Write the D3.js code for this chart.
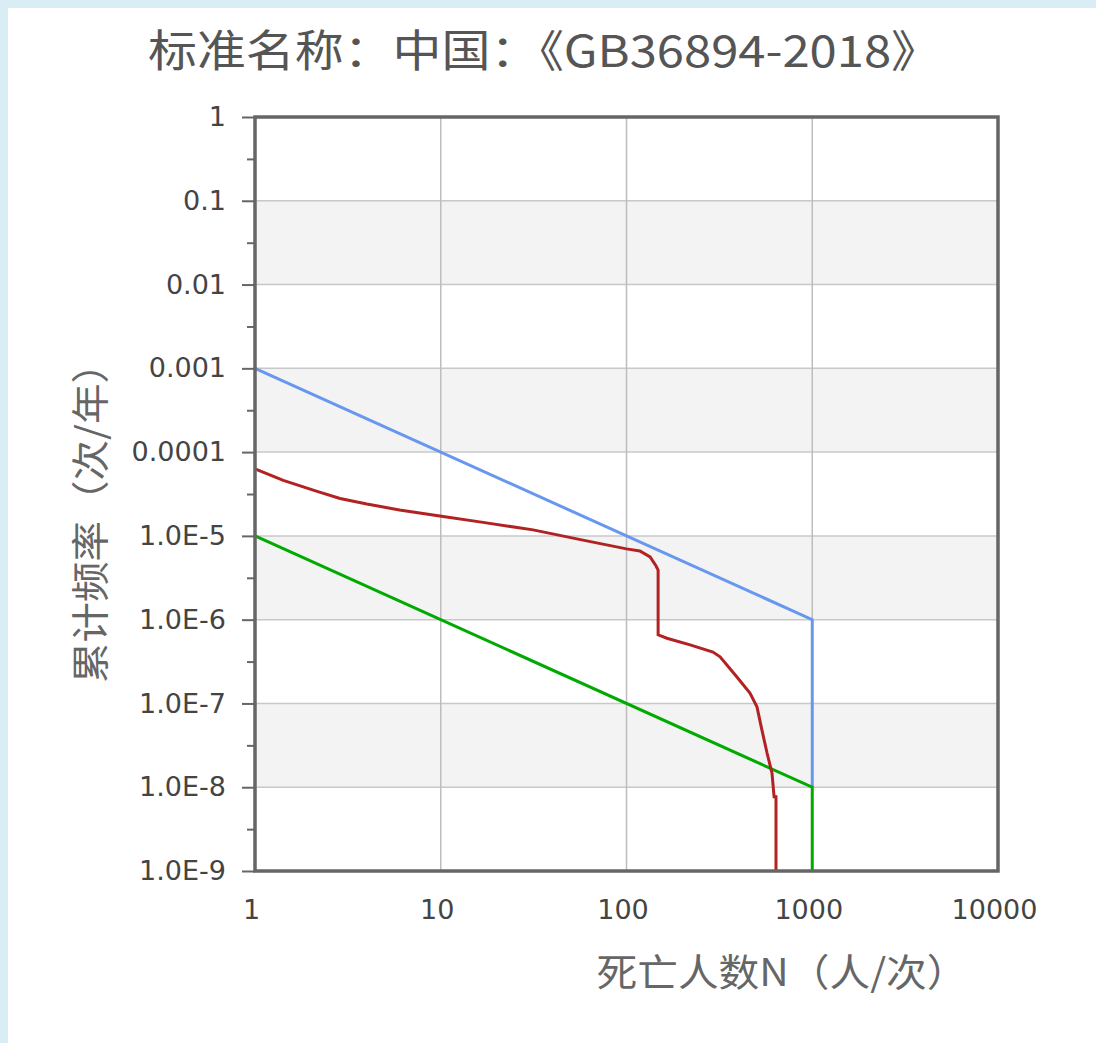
<!DOCTYPE html>
<html>
<head>
<meta charset="utf-8">
<script src="https://cdn.jsdelivr.net/npm/d3@7"></script>
<style>
  body { margin: 0; background: #fff; }
  svg { display: block; }
</style>
</head>
<body>
<svg id="chart"></svg>
<script>
// ---- data ----
const title = "标准名称：中国：《GB36894-2018》";
const xTitle = "死亡人数N（人/次）";
const yTitle = "累计频率（次/年）";

const xTicks = [1, 10, 100, 1000, 10000];
const xTickLabels = ["1", "10", "100", "1000", "10000"];
const yTicks = [1, 0.1, 0.01, 1e-3, 1e-4, 1e-5, 1e-6, 1e-7, 1e-8, 1e-9];
const yTickLabels = ["1", "0.1", "0.01", "0.001", "0.0001", "1.0E-5", "1.0E-6", "1.0E-7", "1.0E-8", "1.0E-9"];
const yMinorTicks = [0.316, 0.0316, 0.00316, 3.16e-4, 3.16e-5, 3.16e-6, 3.16e-7, 3.16e-8, 3.16e-9];
// shaded bands [upper, lower]
const bandTops = [0.1, 1e-3, 1e-5, 1e-7];
const bandBottoms = [0.01, 1e-4, 1e-6, 1e-8];

// upper limit (blue)
const blueN = [1, 1000, 1000];
const blueF = [1e-3, 1e-6, 1e-8];
// lower limit (green)
const greenN = [1, 1000, 1000];
const greenF = [1e-5, 1e-8, 1e-9];
// F-N curve (red)
const redN = [1, 1.42, 2.16, 2.87, 4.0, 6.0, 10.3, 16.9, 31.4, 58.3, 100, 118, 134, 144, 148, 148, 165, 220, 292, 319, 393, 462, 504, 536, 571, 607, 623, 638, 638];
const redF = [6.3e-5, 4.6e-5, 3.4e-5, 2.8e-5, 2.4e-5, 2.04e-5, 1.7e-5, 1.45e-5, 1.18e-5, 8.9e-6, 7.0e-6, 6.6e-6, 5.6e-6, 4.4e-6, 3.9e-6, 6.6e-7, 6.0e-7, 5.0e-7, 4.1e-7, 3.6e-7, 2.07e-7, 1.33e-7, 9.1e-8, 4.8e-8, 2.56e-8, 1.48e-8, 7.7e-9, 7.7e-9, 1e-9];

// ---- layout ----
const W = 1096, H = 1043;
const plot = { left: 255, right: 998, top: 117, bottom: 871 };

const svg = d3.select("#chart").attr("width", W).attr("height", H);

// light blue frame at top and left
svg.append("rect").attr("width", W).attr("height", H).attr("fill", "#dbedf4");
svg.append("rect").attr("x", 8).attr("y", 8).attr("width", W - 8).attr("height", H - 8).attr("fill", "#fff");

const x = d3.scaleLog().domain([1, 10000]).range([plot.left, plot.right]);
const y = d3.scaleLog().domain([1e-9, 1]).range([plot.bottom, plot.top]);

// bands
svg.append("g").selectAll("rect")
  .data(bandTops)
  .join("rect")
  .attr("x", plot.left)
  .attr("width", plot.right - plot.left)
  .attr("y", d => y(d))
  .attr("height", (d, i) => y(bandBottoms[i]) - y(d))
  .attr("fill", "#f3f3f3");

// grid
const grid = svg.append("g").attr("stroke", "#c8c8c8").attr("stroke-width", 1.5);
grid.selectAll("line.h")
  .data(yTicks.slice(1, -1))
  .join("line")
  .attr("class", "h")
  .attr("x1", plot.left).attr("x2", plot.right)
  .attr("y1", d => y(d)).attr("y2", d => y(d));
grid.selectAll("line.v")
  .data(xTicks.slice(1, -1))
  .join("line")
  .attr("class", "v")
  .attr("stroke", "#bdbdbd")
  .attr("y1", plot.top).attr("y2", plot.bottom)
  .attr("x1", d => x(d)).attr("x2", d => x(d));

// y axis ticks + labels
const yAxis = d3.axisLeft(y)
  .tickValues(yTicks)
  .tickFormat((d, i) => yTickLabels[i])
  .tickSize(13)
  .tickPadding(16);
const yAxisG = svg.append("g").attr("transform", `translate(${plot.left},0)`).call(yAxis);

const yMinor = d3.axisLeft(y).tickValues(yMinorTicks).tickFormat("").tickSize(8);
const yMinorG = svg.append("g").attr("transform", `translate(${plot.left},0)`).call(yMinor);

const xAxis = d3.axisBottom(x)
  .tickValues(xTicks)
  .tickFormat((d, i) => xTickLabels[i])
  .tickSize(0)
  .tickPadding(29);
const xAxisG = svg.append("g").attr("transform", `translate(0,${plot.bottom})`).call(xAxis);

[yAxisG, yMinorG, xAxisG].forEach(g => {
  g.select(".domain").remove();
  g.selectAll(".tick line").attr("stroke", "#666").attr("stroke-width", 2);
  g.selectAll(".tick text")
    .attr("fill", "#444")
    .style("font-family", "'DejaVu Sans', sans-serif")
    .style("font-size", "27px");
});
xAxisG.selectAll(".tick text").attr("dx", -4);

// lines
const line = d3.line().x(d => x(d[0])).y(d => y(d[1]));
const series = [
  { n: blueN, f: blueF, color: "#6797ee" },
  { n: greenN, f: greenF, color: "#00aa00" },
  { n: redN, f: redF, color: "#b22222" }
];
series.forEach(s => {
  svg.append("path")
    .datum(s.n.map((v, i) => [v, s.f[i]]))
    .attr("fill", "none")
    .attr("stroke", s.color)
    .attr("stroke-width", 3)
    .attr("d", line);
});

// plot frame
svg.append("rect")
  .attr("x", plot.left).attr("y", plot.top)
  .attr("width", plot.right - plot.left)
  .attr("height", plot.bottom - plot.top)
  .attr("fill", "none")
  .attr("stroke", "#666")
  .attr("stroke-width", 3.5);

// titles
svg.append("text")
  .attr("x", 544).attr("y", 67)
  .attr("text-anchor", "middle")
  .attr("textLength", 792)
  .attr("lengthAdjust", "spacingAndGlyphs")
  .attr("fill", "#555")
  .style("font-family", "'Noto Sans CJK SC', sans-serif")
  .style("font-size", "44px")
  .text(title);

svg.append("text")
  .attr("x", 782).attr("y", 986)
  .attr("text-anchor", "middle")
  .attr("textLength", 371)
  .attr("lengthAdjust", "spacingAndGlyphs")
  .attr("fill", "#666")
  .style("font-family", "'Noto Sans CJK SC', sans-serif")
  .style("font-size", "38px")
  .text(xTitle);

svg.append("text")
  .attr("transform", `translate(104,513) rotate(-90)`)
  .attr("text-anchor", "middle")
  .attr("textLength", 340)
  .attr("lengthAdjust", "spacingAndGlyphs")
  .attr("fill", "#666")
  .style("font-family", "'Noto Sans CJK SC', sans-serif")
  .style("font-size", "38px")
  .text(yTitle);
</script>
</body>
</html>
